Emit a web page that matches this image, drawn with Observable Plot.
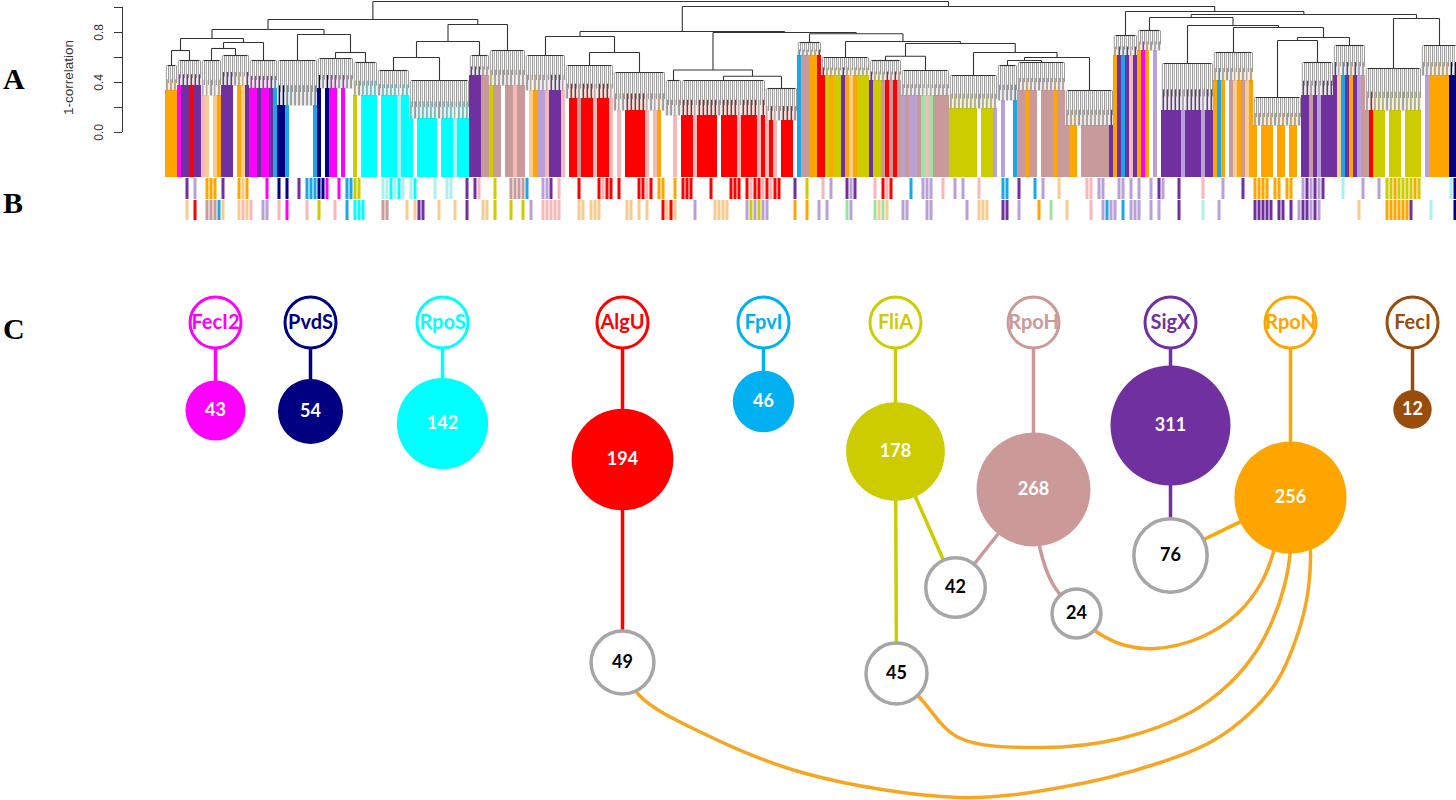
<!DOCTYPE html>
<html>
<head>
<meta charset="utf-8">
<script src="https://cdn.jsdelivr.net/npm/d3@7"></script>
<script src="https://cdn.jsdelivr.net/npm/@observablehq/plot@0.6"></script>
<style>
  body { margin: 0; background: #fff; }
  #wrap { position: relative; width: 1456px; height: 800px; overflow: hidden; background: #fff; }
  .lbl { position: absolute; left: 3px; font-family: "Liberation Serif", "Times New Roman", serif; font-weight: bold; font-size: 30px; line-height: 30px; color: #000; }
  #pa { position: absolute; left: 0; top: 0; }
  #pc { position: absolute; left: 0; top: 222px; }
</style>
</head>
<body>
<div id="wrap">
  <div id="pa"></div>
  <div id="pc"></div>
  <div class="lbl" style="top:64px">A</div>
  <div class="lbl" style="top:188px">B</div>
  <div class="lbl" style="top:314px">C</div>
</div>
<script>
// ---------------- Panel A / B data ----------------
const palette = {o:"#FFA500", p:"#7030A0", m:"#FF00FF", n:"#000080", c:"#00FFFF", r:"#FF0000",
  k:"#C99A9A", y:"#CCCC00", b:"#1AA7E8", l:"#B9A0D6", t:"#F8CB90", i:"#F6B8B8", g:"#9BE3A3", a:"#AEEFF0"};

// leaf-order module colours (one code per group of leaves)
const leafColorsA = [
  "ooompprppitwtopppwotpmmpm","mpbnnbwwwwwwbnwnmmwmwwywc","cccwccccacccwcccccwcccacc",
  "cpppkkykkwkkikkwtollipppi","wrrkrrrirrriwiwrrrrriwiow","wwiwrrrirrrrrwrrrrirrrrir",
  "iriwrrrwbkkoorryoyypotoyy","ypyykrkrklkllkgigkkkkyyyy","yyywyyylwlwwbkkokkwkkkokk",
  "koowkkkkkkkpopbpipomowlwp","pppplpppplppobowktoktoowo","oowoowoowppkplpppptbpoplk",
  "kryyywyyywyyyywlooooonn"].join("");
const rowB1 = [
  "wwwwwpwlwwooowpwwwotowwww","mwwnwnwwpwbbbnnmwwmwbbyyw","wwwwaacacawacwwwwawwaawww",
  "pwpiwwwywwwkkkkbwwwllpwiw","wwwrwwwwrirrwrwwwwrrirwoo","wwowrrrwwwwrwwwwrrrwrirri",
  "rirrwwwpwwywwwiwlwwwplpww","wwiwrirwwwwbwwlllwwiwwlwl","wwwiwwwwwbbwwpwwwbwlwwwtw",
  "wwwwwiiwllwwwllwlwlwwlwpl","wwwpwwwwwiwwwwlwwwwpwwooo","owoowoowwlplplpwwwwawwwwl",
  "wwwlwyyoyyyyoywwwwwwwan"].join("");
const rowB2 = [
  "wwwwwtwrwwkkkbtwwwtitiwwl","lwwiwmwwwwiwwywwwiwwbwccc","wwwwkkwwwwtwtppwwwtwwwtww",
  "pwwwttwywwwywwywlwwiiiiiw","wwwttwtttwwwwwwttwtwtwwwr","trtwwwwlwwwwttttwwwwlylyl",
  "lwwwwwwowwowwlwlwwwwglwww","wwgtgtwwwllwwwwllwwwwwwww","lwwtttwwwppwwlwwwwowwgwww",
  "twwwwwiwwlbllwbwlllwwlwlw","wwwpwwwwwawwwlwwwwwwwwppp","ppwppwpwlpplplwwwwwwwwwtw",
  "wwwwwoooooopwwwwawwwwwn"].join("");

// terminal clusters of the dendrogram (in leaf order)
const clusterWidth = [3,6,5,7,7,10,9,6,8,15,5,9,10,12,13,4,21,8,6,12,8,12,12,5,12,12,6,6,13,10,12,8,8,14,9];
const clusterNodeH = [.536,.576,.576,.616,.576,.576,.592,.56,.496,.416,.616,.656,.616,.536,.48,.416,.416,.352,
  .72,.60,.576,.496,.456,.536,.56,.336,.776,.816,.552,.64,.28,.56,.696,.512,.696];
const clusterLeafH = [.336,.376,.296,.376,.352,.216,.352,.296,.296,.112,.456,.376,.336,.272,.176,.136,.136,.096,
  .616,.456,.416,.296,.192,.256,.336,.056,.616,.656,.176,.416,.056,.296,.456,.176,.456];
// merge heights (1-correlation): [height, left, right]; numbers = cluster index
const dendroTree =
 [1.048,
   [0.904,
     [0.824,
       [0.752, [0.656, 0, 1], [0.72, [0.672, 2, 3], 4]],
       [0.784, 5, [0.64, 6, 7]]],
     [0.864, [0.728, [0.6, 8, 9], 10], 11]],
   [1.008,
     [0.808,
       [0.768, 12, [0.64, 13, 14]],
       [0.8, [0.5, 15, [0.45, 16, 17]],
             [0.79, 18, [0.728, 19, [0.712, [0.61, 20, 21], [0.64, 22, [0.6, [0.576, 23, 24], 25]]]]]]],
     [0.968, 26, [0.944, [0.92, 27, [0.856, 28, [0.84, 29, [0.76, [0.736, 30, 31], 32]]]], [0.912, 33, 34]]]]];

const yTicks = [0, 0.2, 0.4, 0.6, 0.8, 1.0];
const yTickLabels = ["0.0", "0.4", "0.8"];
const yTitle = "1-correlation";

// ---------------- Panel C data ----------------
const sigmaNames = ["FecI2","PvdS","RpoS","AlgU","FpvI","FliA","RpoH","SigX","RpoN","FecI"];
const moduleSizes = [43, 54, 142, 194, 46, 178, 268, 311, 256, 12];
const sigmaColors = ["#FF00FF","#000080","#00FFFF","#FF0000","#00B0F0","#CCCC00","#CC9999","#7030A0","#FFA500","#994C0C"];
const sharedSizes = [49, 45, 42, 24, 76];
const straightLinks = [["AlgU",0],["FliA",1],["FliA",2],["RpoH",2],["SigX",4],["RpoN",4]];
const curvedLinks = ["RpoH","RpoN","RpoN","RpoN"];
// layout (pixels)
const sigmaX = [215,310,442,622,763,895,1033,1170,1290,1412];
const sigmaRowY = 322;
const moduleY = [410,411,423,459,401,451,489,425,497,409];
const sharedX = [622,896,955,1076,1170];
const sharedY = [662,673,587,613,555];
const curvedRoutes = [
  [[1033,489],[1040,550],[1052,583],[1076,613]],
  [[1076,613],[1097,632],[1125,645],[1155,648],[1200,637],[1237,613],[1262,580],[1275,545],[1284,505]],
  [[896,673],[920,698],[958,737],[1040,747],[1120,738],[1190,712],[1229,683],[1255,652],[1272,620],[1284,585],[1290,550],[1292,505]],
  [[622,662],[639,695],[703,733],[805,773],[958,797],[1060,787],[1160,762],[1213,740],[1250,712],[1277,680],[1295,640],[1306,600],[1310,560],[1308,515]]
];

// ---------------- Panel A+B drawing ----------------
const starts = [0];
clusterWidth.forEach(w => starts.push(starts[starts.length - 1] + w));
const treeSegs = [], combSegs = [];
function layout(node) {
  if (typeof node === "number") {
    const s = starts[node], w = clusterWidth[node], h = clusterNodeH[node], lh = clusterLeafH[node];
    treeSegs.push({x1: s + 0.5, x2: s + w - 0.5, y1: h, y2: h});
    for (let k = 0; k < w; k++) {
      const ch = leafColorsA[s + k];
      combSegs.push({x: s + k + 0.5, y1: h, y2: lh, stroke: ch && ch !== "w" ? palette[ch] : "#9a9a9a"});
    }
    return {x: s + w / 2, h};
  }
  const [h, a, b] = node;
  const A = layout(a), B = layout(b);
  treeSegs.push({x1: A.x, x2: B.x, y1: h, y2: h});
  treeSegs.push({x1: A.x, x2: A.x, y1: h, y2: A.h});
  treeSegs.push({x1: B.x, x2: B.x, y1: h, y2: B.h});
  return {x: (A.x + B.x) / 2, h};
}
layout(dendroTree);

const leafCells = [];
clusterWidth.forEach((w, i) => {
  for (let k = 0; k < w; k++) {
    const u = starts[i] + k, ch = leafColorsA[u];
    if (ch && ch !== "w") leafCells.push({u, fill: palette[ch], top: clusterLeafH[i]});
  }
});
function rowCells(str) {
  const out = [];
  for (let u = 0; u < str.length; u++) if (str[u] !== "w") out.push({u, fill: palette[str[u]]});
  return out;
}
const leafBottom = -0.36;
const bandB1 = [-0.368, -0.536], bandB2 = [-0.544, -0.704];
const axisU = -10.75, tickU = -12.75, labelU = -16.6, titleU = -24.3;

const plotA = Plot.plot({
  width: 1456, height: 222, margin: 0,
  style: {background: "transparent", overflow: "visible"},
  x: {domain: [-41.25, 322.75], axis: null},
  y: {domain: [-0.72, 1.056], axis: null},
  color: {type: "identity"},
  marks: [
    Plot.rect(leafCells, {x1: d => d.u, x2: d => d.u + 1, y1: () => leafBottom, y2: "top", fill: "fill"}),
    Plot.rect(rowCells(rowB1), {x1: d => d.u, x2: d => d.u + 1, y1: () => bandB1[0], y2: () => bandB1[1], fill: "fill", insetLeft: 0.5, insetRight: 0.5}),
    Plot.rect(rowCells(rowB2), {x1: d => d.u, x2: d => d.u + 1, y1: () => bandB2[0], y2: () => bandB2[1], fill: "fill", insetLeft: 0.5, insetRight: 0.5}),
    // leaf-coloured ends of the branches inside each cluster
    Plot.link(combSegs, {x1: "x", x2: "x", y1: d => d.y1 - (d.y1 - d.y2) * 0.55, y2: "y2", stroke: "stroke", strokeWidth: 1.4}),
    // dense grey branching inside clusters
    Plot.link(combSegs, {x1: d => d.x - 0.3, x2: d => d.x - 0.3, y1: "y1", y2: "y2", stroke: "#5a5a5a", strokeWidth: 0.6}),
    Plot.link(combSegs, {x1: d => d.x + 0.25, x2: d => d.x + 0.25, y1: "y1", y2: d => d.y1 - (d.y1 - d.y2) * 0.7, stroke: "#5a5a5a", strokeWidth: 0.6}),
    Plot.link(treeSegs, {x1: "x1", x2: "x2", y1: "y1", y2: "y2", stroke: "#333", strokeWidth: 1.1}),
    Plot.ruleX([axisU], {y1: 0, y2: 1, stroke: "#333", strokeWidth: 1}),
    Plot.ruleY(yTicks, {x1: tickU, x2: axisU, stroke: "#333", strokeWidth: 1}),
    Plot.text(yTickLabels, {x: labelU, y: d => +d, text: d => d, rotate: -90, fontSize: 12,
      fontFamily: "Liberation Sans, Arial, sans-serif", fill: "#333"}),
    Plot.text([yTitle], {x: titleU, y: 0.44, text: d => d, rotate: -90, fontSize: 13.5,
      fontFamily: "Liberation Sans, Arial, sans-serif", fill: "#333"})
  ]
});
document.getElementById("pa").appendChild(plotA);

// ---------------- Panel C drawing ----------------
const si = name => sigmaNames.indexOf(name);
const sigIdx = sigmaNames.map((_, i) => i);
const shIdx = sharedSizes.map((_, i) => i);
const lineW = 3.5;
const fontC = "Lato, 'Open Sans', sans-serif";
const plotC = Plot.plot({
  width: 1456, height: 578, margin: 0,
  style: {background: "transparent", overflow: "visible"},
  x: {domain: [0, 1456], axis: null},
  y: {domain: [222, 800], range: [0, 578], axis: null},
  r: {type: "pow", exponent: 0.35, domain: [0, 311], range: [0, 60]},
  color: {type: "identity"},
  marks: [
    Plot.link(sigIdx, {x1: i => sigmaX[i], x2: i => sigmaX[i], y1: () => sigmaRowY, y2: i => moduleY[i],
      stroke: i => sigmaColors[i], strokeWidth: lineW}),
    Plot.link(straightLinks, {x1: d => sigmaX[si(d[0])], y1: d => moduleY[si(d[0])], x2: d => sharedX[d[1]], y2: d => sharedY[d[1]],
      stroke: d => sigmaColors[si(d[0])], strokeWidth: lineW}),
    ...curvedLinks.map((from, j) => Plot.line(curvedRoutes[j], {x: d => d[0], y: d => d[1], curve: "catmull-rom",
      stroke: from === "RpoN" ? "#F5A623" : sigmaColors[si(from)], strokeWidth: lineW})),
    Plot.dot(sigIdx, {x: i => sigmaX[i], y: i => moduleY[i], r: i => moduleSizes[i], fill: i => sigmaColors[i]}),
    Plot.dot(shIdx, {x: i => sharedX[i], y: i => sharedY[i], r: i => sharedSizes[i], fill: "white", stroke: "#A6A6A6", strokeWidth: 3.5}),
    Plot.dot(sigIdx, {x: i => sigmaX[i], y: () => sigmaRowY, r: 25.5, fill: "white", stroke: i => sigmaColors[i], strokeWidth: 3}),
    Plot.text(sigIdx, {x: i => sigmaX[i], y: () => sigmaRowY, text: i => sigmaNames[i], fill: i => sigmaColors[i],
      fontSize: 20, fontWeight: "bold", fontFamily: fontC}),
    Plot.text(sigIdx, {x: i => sigmaX[i], y: i => moduleY[i], text: i => String(moduleSizes[i]), fill: "white",
      fontSize: 18, fontWeight: "bold", fontFamily: fontC}),
    Plot.text(shIdx, {x: i => sharedX[i], y: i => sharedY[i], text: i => String(sharedSizes[i]), fill: "black",
      fontSize: 18, fontWeight: "bold", fontFamily: fontC})
  ]
});
document.getElementById("pc").appendChild(plotC);
</script>
</body>
</html>
